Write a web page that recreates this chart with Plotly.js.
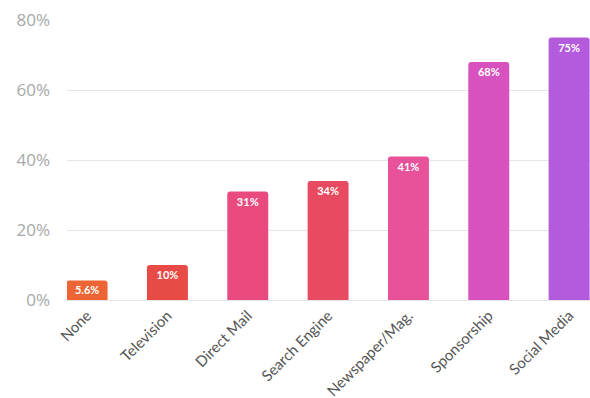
<!DOCTYPE html>
<html>
<head>
<meta charset="utf-8">
<script src="https://cdn.plot.ly/plotly-3.0.1.min.js"></script>
<style>html,body{margin:0;padding:0;background:#fff;}#chart{width:590px;height:398px;}</style>
</head>
<body>
<div id="chart"></div>
<script>
const categories = ["None", "Television", "Direct Mail", "Search Engine", "Newspaper/Mag.", "Sponsorship", "Social Media"];
const values = [5.6, 10, 31, 34, 41, 68, 75];
const valueLabels = ["5.6%", "10%", "31%", "34%", "41%", "68%", "75%"];
const barColors = ["#EE6535", "#E84A45", "#E94B7E", "#E84A62", "#E8529A", "#D752BE", "#B45ADC"];
const yTickValues = [0, 20, 40, 60, 80];
const yTickLabels = ["0%", "20%", "40%", "60%", "80%"];

const trace = {
  type: "bar",
  x: categories,
  y: values,
  text: valueLabels,
  textposition: "inside",
  insidetextanchor: "end",
  constraintext: "none",
  textangle: 0,
  textfont: {family: "Lato, 'Open Sans', sans-serif", size: 11, color: "#ffffff", weight: "bold"},
  marker: {color: barColors, cornerradius: 3},
  hoverinfo: "none"
};

const layout = {
  width: 590,
  height: 398,
  margin: {l: 67, r: 0, t: 20, b: 98},
  paper_bgcolor: "#ffffff",
  plot_bgcolor: "#ffffff",
  showlegend: false,
  bargap: 0.49,
  xaxis: {
    type: "category",
    range: [-0.25, 6.26],
    tickangle: -45,
    tickfont: {family: "Lato, 'Open Sans', sans-serif", size: 15, color: "#555555"},
    showgrid: false,
    zeroline: false,
    showline: false,
    ticks: "",
    ticklabelstandoff: 3
  },
  yaxis: {
    range: [0, 80],
    tickvals: yTickValues,
    ticktext: yTickLabels,
    tickfont: {family: "'Open Sans', Lato, sans-serif", size: 17, color: "#a8a8a8"},
    gridcolor: "#e6e6e6",
    gridwidth: 1,
    zeroline: true,
    zerolinecolor: "#e6e6e6",
    showline: false,
    ticks: "",
    ticklabelstandoff: 16
  }
};

Plotly.newPlot("chart", [trace], layout, {staticPlot: true, displayModeBar: false});
</script>
</body>
</html>
